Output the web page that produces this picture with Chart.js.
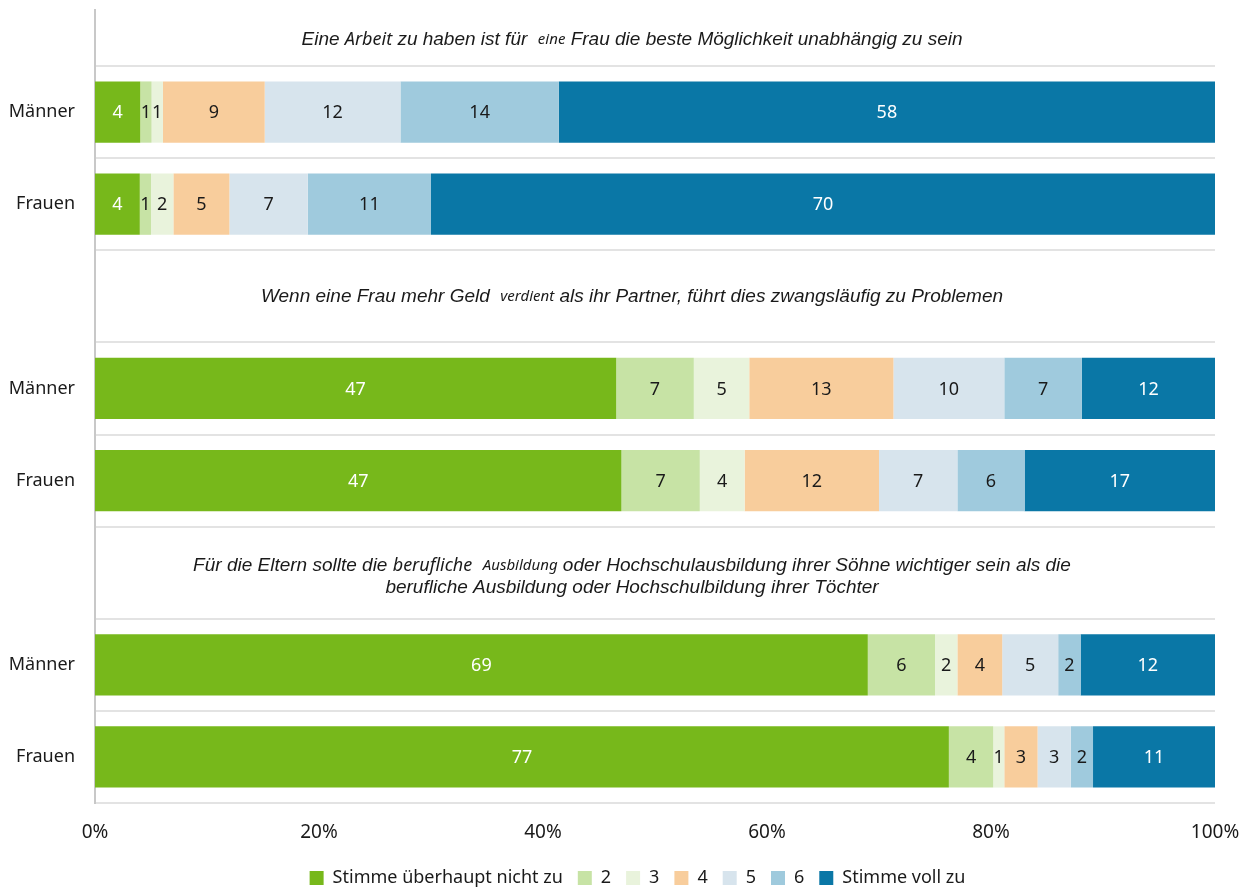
<!DOCTYPE html>
<html>
<head>
<meta charset="utf-8">
<script src="https://cdn.jsdelivr.net/npm/chart.js@4.4.1/dist/chart.umd.min.js"></script>
<style>
  html, body { margin: 0; padding: 0; background: #fff; }
  #wrap { width: 1244px; height: 890px; }
</style>
</head>
<body>
<div id="wrap"><canvas id="chart"></canvas></div>
<script>
// rows: Männer / Frauen per question, empty rows hold the question text
const rows = ["Männer", "Frauen", "", "Männer", "Frauen", "", "Männer", "Frauen"];

const seriesNames = ["Stimme überhaupt nicht zu", "2", "3", "4", "5", "6", "Stimme voll zu"];
const seriesColors = ["#77b81b", "#c7e3a5", "#e9f3dc", "#f8cd9c", "#d7e4ed", "#9fcadd", "#0a77a6"];

const s1 = [4, 4, null, 47, 47, null, 69, 77];
const s2 = [1, 1, null, 7, 7, null, 6, 4];
const s3 = [1, 2, null, 5, 4, null, 2, 1];
const s4 = [9, 5, null, 13, 12, null, 4, 3];
const s5 = [12, 7, null, 10, 7, null, 5, 3];
const s6 = [14, 11, null, 7, 6, null, 2, 2];
const s7 = [58, 70, null, 12, 17, null, 12, 11];

const xTicks = [0, 20, 40, 60, 80, 100];

// question texts; 0 = main font, 1 = other italic, 2 = other italic, smaller
const question1 = [[["Eine ", 0], ["Arbeit", 1], [" zu haben ist für  ", 0], ["eine", 2], [" Frau die beste Möglichkeit unabhängig zu sein", 0]]];
const question2 = [[["Wenn eine Frau mehr Geld  ", 0], ["verdient", 2], [" als ihr Partner, führt dies zwangsläufig zu Problemen", 0]]];
const question3 = [
  [["Für die Eltern sollte die ", 0], ["berufliche", 1], ["  ", 0], ["Ausbildung", 2], [" oder Hochschulausbildung ihrer Söhne wichtiger sein als die", 0]],
  [["berufliche Ausbildung oder Hochschulbildung ihrer Töchter", 0]]
];

const allSeries = [s1, s2, s3, s4, s5, s6, s7];
// 100% stacked: each row is scaled to its own total
const totals = rows.map((r, i) => allSeries.reduce((a, s) => a + (s[i] || 0), 0));

const datasets = allSeries.map((s, k) => ({
  label: seriesNames[k],
  raw: s,
  data: s.map((v, i) => v == null ? null : v / totals[i] * 100),
  backgroundColor: seriesColors[k],
  borderWidth: 0,
  barPercentage: 0.665,
  categoryPercentage: 1
}));

const segFonts = [
  "italic 19px 'Liberation Sans Narrow', 'Liberation Sans', sans-serif",
  "italic 18px 'Noto Sans', sans-serif",
  "italic 15px 'Noto Sans', sans-serif"
];

function drawRich(ctx, lines, cx, cy, lineH) {
  const y0 = cy - (lines.length - 1) * lineH / 2;
  lines.forEach((line, li) => {
    let w = 0;
    line.forEach(seg => { ctx.font = segFonts[seg[1]]; w += ctx.measureText(seg[0]).width; });
    let x = cx - w / 2;
    line.forEach(seg => {
      ctx.font = segFonts[seg[1]];
      ctx.fillText(seg[0], x, y0 + li * lineH);
      x += ctx.measureText(seg[0]).width;
    });
  });
}

const extras = {
  id: "extras",
  afterLayout(chart) {
    // legend sits a bit right of the canvas centre
    if (chart.legend) { chart.legend.left += 30; chart.legend.right += 30; }
  },
  afterDraw(chart) {
    const ctx = chart.ctx;
    const a = chart.chartArea;
    const ys = chart.scales.y;
    ctx.save();
    // axis line continues above the first row
    ctx.strokeStyle = "#c8c8c8";
    ctx.lineWidth = 2;
    ctx.beginPath();
    ctx.moveTo(a.left, 9);
    ctx.lineTo(a.left, a.top);
    ctx.stroke();
    // question texts
    ctx.fillStyle = "#1a1a1a";
    ctx.textAlign = "left";
    ctx.textBaseline = "middle";
    const cx = (a.left + a.right) / 2 - 23;
    drawRich(ctx, question1, cx, 40, 22);
    drawRich(ctx, question2, cx, ys.getPixelForValue(2), 22);
    drawRich(ctx, question3, cx, ys.getPixelForValue(5) + 4, 22);
    // value labels
    ctx.font = "18px 'Noto Sans', sans-serif";
    ctx.textAlign = "center";
    chart.data.datasets.forEach((ds, k) => {
      const meta = chart.getDatasetMeta(k);
      ctx.fillStyle = (k === 0 || k === 6) ? "#ffffff" : "#1a1a1a";
      meta.data.forEach((bar, i) => {
        const v = ds.raw[i];
        if (v == null) return;
        ctx.fillText(String(v), (bar.x + bar.base) / 2, bar.y + 1);
      });
    });
    ctx.restore();
  }
};

new Chart(document.getElementById("chart"), {
  type: "bar",
  data: { labels: rows, datasets: datasets },
  plugins: [extras],
  options: {
    indexAxis: "y",
    responsive: true,
    maintainAspectRatio: false,
    animation: false,
    layout: { padding: { top: 66, right: 29, bottom: -7, left: 0 } },
    scales: {
      x: {
        stacked: true,
        min: 0,
        max: 100,
        afterBuildTicks: scale => { scale.ticks = xTicks.map(v => ({ value: v })); },
        afterFit: scale => { scale.height = 51; scale.paddingLeft = 0; scale.paddingRight = 0; },
        grid: { display: false, drawTicks: false },
        border: { display: false },
        ticks: {
          padding: 18,
          color: "#1a1a1a",
          font: { family: "'Noto Sans', sans-serif", size: 19 },
          callback: v => v + "%"
        }
      },
      y: {
        stacked: true,
        afterFit: scale => { scale.width = 95; },
        grid: { color: "#e3e3e3", lineWidth: 2, drawTicks: false },
        border: { color: "#c8c8c8", width: 2 },
        ticks: {
          padding: 20,
          color: "#1a1a1a",
          font: { family: "'Noto Sans', sans-serif", size: 18 }
        }
      }
    },
    plugins: {
      legend: {
        position: "bottom",
        labels: {
          color: "#1a1a1a",
          boxWidth: 14,
          boxHeight: 14,
          padding: 15,
          font: { family: "'Noto Sans', sans-serif", size: 18 }
        }
      },
      tooltip: { enabled: false }
    }
  }
});
</script>
</body>
</html>
